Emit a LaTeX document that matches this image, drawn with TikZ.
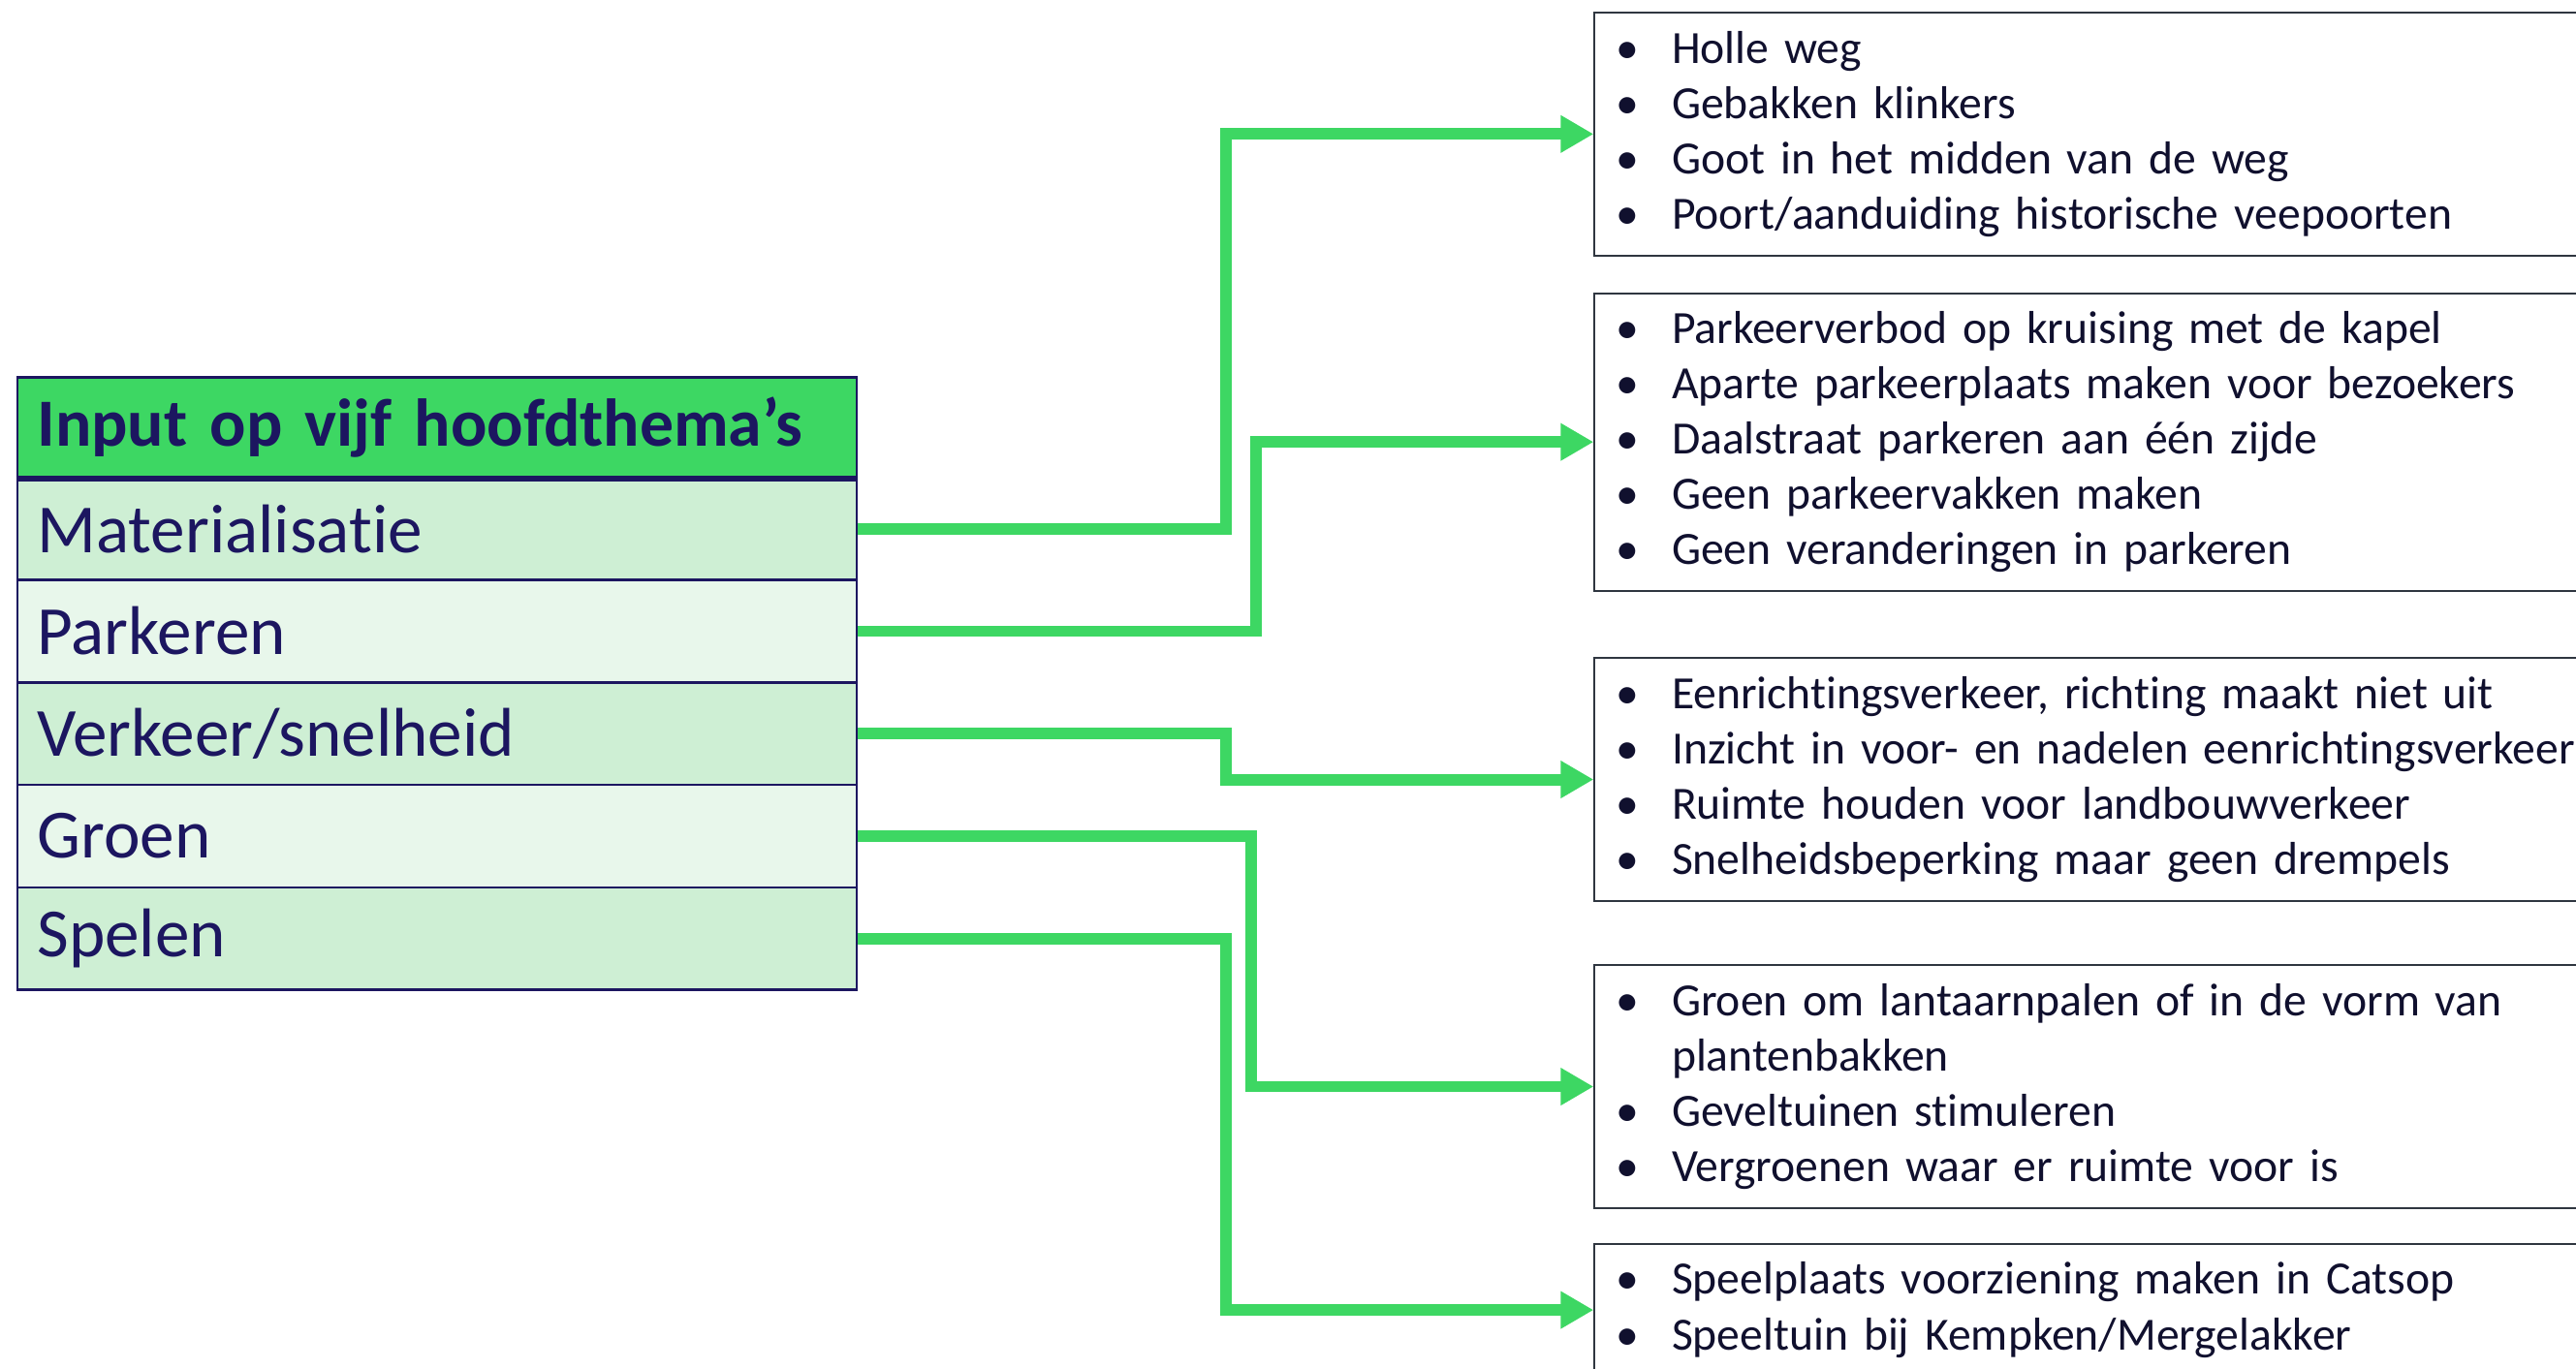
\documentclass[tikz,border=0pt]{standalone}
\usepackage{fontspec}
\setmainfont{Carlito}[Ligatures={TeX,NoCommon}]
\usetikzlibrary{arrows.meta}
\definecolor{kopgroen}{HTML}{3DD763}
\definecolor{rijdonker}{HTML}{CEEFD4}
\definecolor{rijlicht}{HTML}{E8F7EB}
\definecolor{marine}{HTML}{1C1660}
\definecolor{tekstdonker}{HTML}{10102E}
\definecolor{randgrijs}{HTML}{2F3640}
\newcommand{\punt}{\makebox[0.68cm][l]{\textbullet}}

\begin{document}
\begin{tikzpicture}[x=0.02cm, y=-0.02cm]
\tikzset{themacel/.style={draw=marine, line width=0.8pt, anchor=north west, text=marine, inner xsep=0.24cm, text width=9.74cm, align=left, minimum height=1.248cm, font=\fontsize{23.9}{28}\selectfont}}
\tikzset{lijst/.style={draw=randgrijs, line width=0.7pt, anchor=north west, text=tekstdonker, inner xsep=0.26cm, text width=12.08cm, align=left, font=\fontsize{16}{19.2}\selectfont}}
\tikzset{pijl/.style={draw=kopgroen, line width=4pt, -{Triangle[length=0.4cm, width=0.43cm]}}}
\useasboundingbox (0,0) rectangle (1568,833);
\clip (0,0) rectangle (1568,833);
\node[themacel, fill=kopgroen, minimum height=1.22cm, font=\fontsize{23.4}{28}\selectfont\bfseries] (kop) at (10,229) {Input op vijf hoofdthema’s};
\node[themacel, fill=rijdonker] (T1) at (10,290) {Materialisatie};
\node[themacel, fill=rijlicht] (T2) at (10,352.4) {Parkeren};
\node[themacel, fill=rijdonker] (T3) at (10,414.8) {Verkeer/snelheid};
\node[themacel, fill=rijlicht] (T4) at (10,477.2) {Groen};
\node[themacel, fill=rijdonker] (T5) at (10,539.6) {Spelen};
\draw[marine, line width=1.8pt] (kop.south west) -- (kop.south east);
\node[lijst, minimum height=2.96cm] (L1) at (970,7) {\punt Holle weg\\ \punt Gebakken klinkers\\ \punt Goot in het midden van de weg\\ \punt Poort/aanduiding historische veepoorten};
\node[lijst, minimum height=3.62cm] (L2) at (970,178) {\punt Parkeerverbod op kruising met de kapel\\ \punt Aparte parkeerplaats maken voor bezoekers\\ \punt Daalstraat parkeren aan één zijde\\ \punt Geen parkeervakken maken\\ \punt Geen veranderingen in parkeren};
\node[lijst, minimum height=2.96cm] (L3) at (970,400) {\punt Eenrichtingsverkeer, richting maakt niet uit\\ \punt Inzicht in voor- en nadelen eenrichtingsverkeer\\ \punt Ruimte houden voor landbouwverkeer\\ \punt Snelheidsbeperking maar geen drempels};
\node[lijst, minimum height=2.96cm] (L4) at (970,587) {\punt Groen om lantaarnpalen of in de vorm van\\ \hspace*{0.68cm}plantenbakken\\ \punt Geveltuinen stimuleren\\ \punt Vergroenen waar er ruimte voor is};
\node[lijst, minimum height=1.6cm] (L5) at (970,757) {\punt Speelplaats voorziening maken in Catsop\\ \punt Speeltuin bij Kempken/Mergelakker};
\draw[pijl] (T1.east) -- ++(224,0) |- (L1.west);
\draw[pijl] (T2.east) -- ++(242,0) |- (L2.west);
\draw[pijl] (T3.east) -- ++(224,0) |- (L3.west);
\draw[pijl] (T4.east) -- ++(239,0) |- (L4.west);
\draw[pijl] (T5.east) -- ++(224,0) |- (L5.west);
\end{tikzpicture}
\end{document}
